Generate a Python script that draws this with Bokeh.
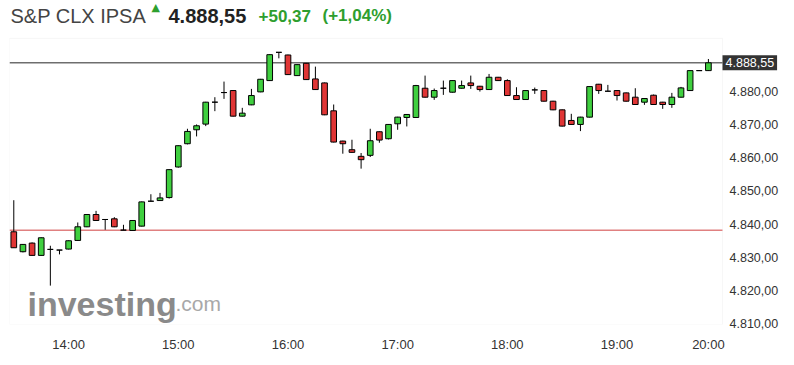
from bokeh.plotting import figure
from bokeh.models import Label, FixedTicker, BoxAnnotation
from bokeh.embed import file_html
from bokeh.resources import INLINE

# ---- data (5-minute candles, S&P CLX IPSA) ----
opens = [4837.7, 4831.7, 4834.3, 4830.6, 4832.4, 4832.2, 4832.5, 4835.1, 4839.2, 4842.9,
         4841.4, 4841.6, 4838.2, 4838.1, 4839.4, 4846.9, 4847.1, 4848.0, 4857.2, 4864.2,
         4868.4, 4870.1, 4876.7, 4879.6, 4880.2, 4872.5, 4875.9, 4879.8, 4883.2, 4891.7,
         4890.9, 4884.7, 4888.4, 4883.7, 4882.5, 4874.1, 4865.0, 4862.4, 4860.4, 4860.7,
         4867.8, 4865.7, 4870.2, 4872.1, 4872.1, 4880.9, 4878.2, 4880.9, 4879.7, 4880.9,
         4882.5, 4881.5, 4880.5, 4884.2, 4883.2, 4878.7, 4877.5, 4880.4, 4880.2, 4877.0,
         4874.4, 4871.2, 4870.0, 4872.2, 4882.1, 4880.0, 4880.2, 4879.5, 4878.2, 4876.7,
         4878.8, 4876.7, 4876.0, 4878.2, 4880.2, 4886.2, 4886.2]
highs = [4847.2, 4834.0, 4834.5, 4836.0, 4833.5, 4832.2, 4835.1, 4840.5, 4843.0, 4844.0,
         4841.4, 4842.1, 4839.8, 4841.2, 4846.8, 4849.0, 4849.4, 4856.5, 4863.7, 4868.7,
         4870.0, 4876.8, 4878.2, 4882.9, 4880.3, 4875.0, 4880.7, 4883.7, 4891.1, 4891.7,
         4891.0, 4888.1, 4888.5, 4887.4, 4882.6, 4876.0, 4865.1, 4865.4, 4861.4, 4868.7,
         4867.9, 4870.1, 4872.3, 4873.1, 4881.9, 4884.7, 4880.8, 4883.2, 4883.3, 4883.2,
         4884.7, 4881.6, 4885.2, 4884.3, 4883.6, 4881.2, 4880.3, 4881.1, 4880.3, 4877.1,
         4874.5, 4873.2, 4872.3, 4881.5, 4882.2, 4881.9, 4880.3, 4879.6, 4880.9, 4877.9,
         4879.0, 4876.8, 4879.5, 4881.3, 4886.3, 4886.2, 4889.7]
lows = [4832.9, 4831.5, 4830.5, 4830.5, 4821.5, 4830.9, 4832.4, 4835.0, 4839.1, 4841.0,
        4838.3, 4839.1, 4838.2, 4838.0, 4839.3, 4846.9, 4847.0, 4847.7, 4857.0, 4864.0,
        4866.4, 4869.5, 4874.0, 4877.7, 4872.4, 4872.4, 4875.8, 4879.7, 4883.1, 4889.9,
        4884.9, 4884.6, 4883.4, 4880.4, 4872.8, 4864.6, 4861.2, 4861.5, 4856.7, 4860.2,
        4864.5, 4865.5, 4868.4, 4869.4, 4872.0, 4878.1, 4877.4, 4878.9, 4879.6, 4880.8,
        4880.7, 4879.9, 4880.4, 4883.1, 4878.6, 4877.4, 4877.4, 4879.2, 4876.9, 4874.3,
        4869.4, 4869.9, 4868.0, 4872.1, 4879.2, 4880.0, 4877.2, 4876.9, 4875.9, 4875.9,
        4875.9, 4874.7, 4875.0, 4878.1, 4880.1, 4886.2, 4886.1]
closes = [4832.9, 4833.9, 4830.6, 4835.9, 4832.4, 4832.2, 4835.0, 4839.2, 4842.9, 4841.1,
          4841.4, 4839.2, 4838.2, 4841.1, 4846.7, 4846.9, 4847.9, 4856.4, 4863.6, 4867.9,
          4869.6, 4876.7, 4876.7, 4879.6, 4872.5, 4873.4, 4878.7, 4883.6, 4891.0, 4891.7,
          4885.0, 4888.0, 4883.5, 4880.5, 4872.9, 4864.7, 4864.2, 4861.6, 4859.4, 4865.1,
          4865.3, 4870.0, 4872.2, 4873.0, 4881.7, 4878.2, 4880.2, 4880.9, 4883.2, 4881.7,
          4881.7, 4880.5, 4884.2, 4883.2, 4878.7, 4877.5, 4880.2, 4880.4, 4877.0, 4874.4,
          4869.5, 4870.0, 4872.2, 4881.4, 4880.2, 4880.0, 4878.7, 4877.0, 4876.0, 4877.8,
          4876.0, 4876.0, 4878.2, 4881.0, 4886.2, 4886.2, 4888.55]

prev_close = 4838.18
last_price = 4888.55
title_name = "S&P CLX IPSA"
last_price_text = "4.888,55"
change_text = "+50,37"
change_pct_text = "(+1,04%)"

y_ticks = [4810, 4820, 4830, 4840, 4850, 4860, 4870, 4880]
y_tick_labels = ["4.810,00", "4.820,00", "4.830,00", "4.840,00",
                 "4.850,00", "4.860,00", "4.870,00", "4.880,00"]
x_tick_pos = [6, 18, 30, 42, 54, 66, 76]
x_tick_labels = ["14:00", "15:00", "16:00", "17:00", "18:00", "19:00", "20:00"]

# ---- plot box extents (chart area) and canvas extents ----
X_LO, X_HI_BOX, X_HI = -0.47, 77.54, 83.56
Y_LO, Y_HI_BOX, Y_HI = 4809.8, 4895.9, 4907.3

# ---- derived ----
idx = list(range(len(opens)))
GREEN = "#3fcf3f"
RED = "#e03535"
colors = [GREEN if c > o else (RED if c < o else "black") for o, c in zip(opens, closes)]
tops = [max(o, c) for o, c in zip(opens, closes)]
bots = [min(o, c) for o, c in zip(opens, closes)]

FONT = "Liberation Sans"

p = figure(width=794, height=365, x_range=(X_LO, X_HI), y_range=(Y_LO, Y_HI),
           y_axis_location="right", toolbar_location=None, output_backend="svg",
           min_border_left=9, min_border_right=17, min_border_top=0, min_border_bottom=41,
           background_fill_color="white", border_fill_color="white",
           outline_line_color=None)
p.xgrid.visible = False
p.ygrid.visible = False

# chart box border
p.add_layout(BoxAnnotation(left=X_LO, right=X_HI_BOX, bottom=Y_LO, top=Y_HI_BOX,
                           fill_alpha=0, line_color="#e0e0e0", line_width=1, level="underlay"))

# watermark
p.add_layout(Label(x=18, y=21, x_units="screen", y_units="screen", text="investing",
                   text_font=FONT, text_font_style="bold", text_font_size="34px",
                   text_color="#8a8a8a", text_baseline="alphabetic", level="underlay"))
p.add_layout(Label(x=166, y=21, x_units="screen", y_units="screen", text=".com",
                   text_font=FONT, text_font_size="21px",
                   text_color="#a8a8a8", text_baseline="alphabetic", level="underlay"))

# reference lines
p.segment(x0=[X_LO], x1=[X_HI_BOX], y0=[prev_close], y1=[prev_close],
          line_color="#e08080", line_width=1.5)
p.segment(x0=[X_LO], x1=[X_HI_BOX], y0=[last_price], y1=[last_price],
          line_color="#6e6e6e", line_width=1.5)

# candles
p.segment(idx, highs, idx, lows, line_color="black", line_width=1)
p.vbar(x=idx, top=tops, bottom=bots, width=0.62, fill_color=colors,
       line_color="black", line_width=1)

# axes
p.yaxis.ticker = FixedTicker(ticks=y_ticks)
p.yaxis.major_label_overrides = dict(zip(y_ticks, y_tick_labels))
p.xaxis.ticker = FixedTicker(ticks=x_tick_pos)
p.xaxis.major_label_overrides = dict(zip(x_tick_pos, x_tick_labels))
for ax in (p.xaxis, p.yaxis):
    ax.axis_line_color = None
    ax.major_tick_line_color = None
    ax.minor_tick_line_color = None
    ax.major_tick_out = 0
    ax.major_tick_in = 0
    ax.minor_tick_out = 0
    ax.major_label_text_font = FONT
    ax.major_label_text_color = "#333333"
p.yaxis.major_label_text_font_size = "12.5px"
p.yaxis.major_label_standoff = -48
p.xaxis.major_label_text_font_size = "13px"
p.xaxis.major_label_standoff = 12

# price box
p.add_layout(Label(x=713, y=last_price, x_units="screen", y_units="data", text=last_price_text,
                   text_font=FONT, text_font_size="12.5px", text_color="white",
                   text_baseline="middle", background_fill_color="#333333", padding=3))

# header
hdr = dict(x_units="screen", y_units="screen", text_baseline="alphabetic")
p.add_layout(Label(x=1, y=309, text=title_name, text_font=FONT, text_font_size="20px",
                   text_color="#444444", **hdr))
p.add_layout(Label(x=142, y=317, text="▲", text_font="DejaVu Sans", text_font_size="11px",
                   text_color="#2ea02e", **hdr))
p.add_layout(Label(x=159, y=309, text=last_price_text, text_font=FONT, text_font_size="20px",
                   text_font_style="bold", text_color="#222222", **hdr))
p.add_layout(Label(x=249, y=309, text=change_text, text_font=FONT, text_font_size="17px",
                   text_font_style="bold", text_color="#2e9e2e", **hdr))
p.add_layout(Label(x=313, y=309, text=change_pct_text, text_font=FONT, text_font_size="17px",
                   text_font_style="bold", text_color="#2e9e2e", **hdr))

open("out.html", "w").write(file_html(p, INLINE))
